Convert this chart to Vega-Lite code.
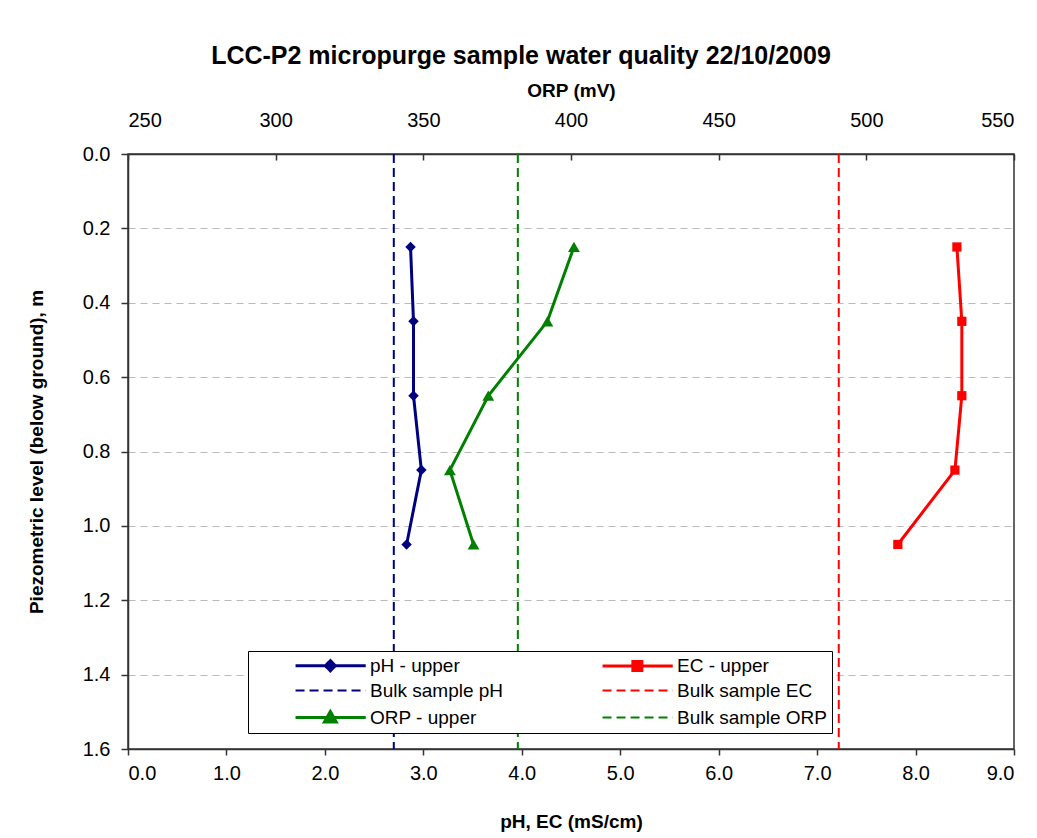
{
  "$schema": "https://vega.github.io/schema/vega-lite/v6.json",
  "width": 886,
  "height": 595,
  "autosize": {"type": "none"},
  "padding": {"left": 128, "top": 154, "right": 23, "bottom": 89},
  "background": "white",
  "title": {
    "text": "LCC-P2 micropurge sample water quality 22/10/2009",
    "font": "Liberation Sans",
    "fontSize": 25,
    "fontWeight": "bold",
    "color": "black",
    "anchor": "middle",
    "frame": "bounds",
    "offset": 12
  },
  "config": {
    "font": "Liberation Sans",
    "view": {"stroke": "#333333", "strokeWidth": 1.5},
    "axis": {
      "labelFont": "Liberation Sans",
      "labelFontSize": 20,
      "labelColor": "black",
      "titleFont": "Liberation Sans",
      "titleFontSize": 19,
      "titleFontWeight": "bold",
      "titleColor": "black",
      "domainColor": "#333333",
      "domainWidth": 1.5,
      "tickColor": "#333333",
      "tickWidth": 1.5
    }
  },
  "datasets": {
    "d": [
      {"series": "pH - upper", "depth": 0.25, "value": 2.87},
      {"series": "pH - upper", "depth": 0.45, "value": 2.9},
      {"series": "pH - upper", "depth": 0.65, "value": 2.9},
      {"series": "pH - upper", "depth": 0.85, "value": 2.98},
      {"series": "pH - upper", "depth": 1.05, "value": 2.83},
      {"series": "EC - upper", "depth": 0.25, "value": 8.42},
      {"series": "EC - upper", "depth": 0.45, "value": 8.47},
      {"series": "EC - upper", "depth": 0.65, "value": 8.47},
      {"series": "EC - upper", "depth": 0.85, "value": 8.4},
      {"series": "EC - upper", "depth": 1.05, "value": 7.82},
      {"series": "ORP - upper", "depth": 0.25, "value": 401},
      {"series": "ORP - upper", "depth": 0.45, "value": 392},
      {"series": "ORP - upper", "depth": 0.65, "value": 372},
      {"series": "ORP - upper", "depth": 0.85, "value": 359},
      {"series": "ORP - upper", "depth": 1.05, "value": 367},
      {"series": "Bulk sample pH", "value": 2.7},
      {"series": "Bulk sample EC", "value": 7.22},
      {"series": "Bulk sample ORP", "value": 382}
    ]
  },
  "data": {"name": "d"},
  "layer": [
    {
      "layer": [
        {
          "transform": [{"filter": "datum.series === 'pH - upper' || datum.series === 'EC - upper'"}],
          "mark": {"type": "line", "strokeWidth": 3},
          "encoding": {
            "x": {"field": "value", "type": "quantitative", "scale": {"domain": [0, 9], "nice": false, "zero": false},
              "axis": {"orient": "bottom", "title": "pH, EC (mS/cm)", "values": [0,1,2,3,4,5,6,7,8,9], "format": ".1f", "grid": false, "tickSize": 6, "labelPadding": 8, "titlePadding": 29}},
            "y": {"field": "depth", "type": "quantitative", "scale": {"domain": [0, 1.6], "reverse": true, "nice": false},
              "axis": {"title": "Piezometric level (below ground), m", "values": [0,0.2,0.4,0.6,0.8,1.0,1.2,1.4,1.6], "format": ".1f", "grid": true, "gridColor": "#bbbbbb", "gridDash": [7, 5], "gridWidth": 1.2, "tickSize": 7, "labelPadding": 11, "titlePadding": 36}},
            "color": {"field": "series", "type": "nominal",
              "scale": {"domain": ["pH - upper", "Bulk sample pH", "ORP - upper", "EC - upper", "Bulk sample EC", "Bulk sample ORP"],
                        "range": ["#000080", "#000080", "#008000", "#ff0000", "#ff0000", "#008000"]},
              "legend": {
                "title": null,
                "orient": "none",
                "legendX": 120,
                "legendY": 497,
                "columns": 2,
                "columnPadding": 56,
                "rowPadding": 4,
                "padding": 5,
                "strokeColor": "black",
                "fillColor": "white",
                "symbolSize": 13924,
                "labelOffset": 98,
                "labelFont": "Liberation Sans",
                "labelFontSize": 19,
                "labelColor": "black",
                "labelLimit": 300,
                "encode": {
                  "symbols": {
                    "update": {
                      "shape": {"signal": "datum.value === 'pH - upper' ? 'M0.56,0L1.75,0M1.15,-0.085L1.235,0L1.15,0.085L1.065,0Z' : datum.value === 'EC - upper' ? 'M0.56,0L1.75,0M1.074,-0.076L1.226,-0.076L1.226,0.076L1.074,0.076Z' : datum.value === 'ORP - upper' ? 'M0.56,0L1.75,0M1.15,-0.1L1.25,0.075L1.05,0.075Z' : 'M0.56,0L1.75,0'"},
                      "stroke": {"signal": "scale('color', datum.value)"},
                      "fill": {"signal": "scale('color', datum.value)"},
                      "strokeWidth": {"signal": "indexof(['pH - upper','EC - upper','ORP - upper'], datum.value) >= 0 ? 3 : 2"},
                      "strokeDash": {"signal": "indexof(['pH - upper','EC - upper','ORP - upper'], datum.value) >= 0 ? [1, 0] : [9, 5]"},
                      "opacity": {"value": 1}
                    }
                  }
                }
              }
            },
            "detail": {"field": "series"},
            "order": {"field": "depth", "type": "quantitative"}
          }
        },
        {
          "transform": [{"filter": "datum.series === 'pH - upper'"}],
          "mark": {"type": "point", "shape": "diamond", "filled": true, "size": 110, "color": "#000080", "opacity": 1},
          "encoding": {
            "x": {"field": "value", "type": "quantitative"},
            "y": {"field": "depth", "type": "quantitative"}
          }
        },
        {
          "transform": [{"filter": "datum.series === 'EC - upper'"}],
          "mark": {"type": "point", "shape": "square", "filled": true, "size": 85, "color": "#ff0000", "opacity": 1},
          "encoding": {
            "x": {"field": "value", "type": "quantitative"},
            "y": {"field": "depth", "type": "quantitative"}
          }
        },
        {
          "transform": [{"filter": "datum.series === 'Bulk sample pH' || datum.series === 'Bulk sample EC'"}],
          "mark": {"type": "rule", "strokeWidth": 2, "strokeDash": [9, 5]},
          "encoding": {
            "x": {"field": "value", "type": "quantitative"},
            "color": {"field": "series", "type": "nominal"}
          }
        }
      ]
    },
    {
      "layer": [
        {
          "transform": [{"filter": "datum.series === 'ORP - upper'"}],
          "mark": {"type": "line", "strokeWidth": 3},
          "encoding": {
            "x": {"field": "value", "type": "quantitative", "scale": {"domain": [250, 550], "nice": false, "zero": false},
              "axis": {"orient": "top", "title": "ORP (mV)", "values": [250, 300, 350, 400, 450, 500, 550], "format": "d", "grid": false, "tickSize": -6, "labelPadding": 30, "titlePadding": 10}},
            "y": {"field": "depth", "type": "quantitative"},
            "color": {"field": "series", "type": "nominal"},
            "order": {"field": "depth", "type": "quantitative"}
          }
        },
        {
          "transform": [{"filter": "datum.series === 'ORP - upper'"}],
          "mark": {"type": "point", "shape": "triangle-up", "filled": true, "size": 140, "color": "#008000", "opacity": 1},
          "encoding": {
            "x": {"field": "value", "type": "quantitative"},
            "y": {"field": "depth", "type": "quantitative"}
          }
        },
        {
          "transform": [{"filter": "datum.series === 'Bulk sample ORP'"}],
          "mark": {"type": "rule", "strokeWidth": 2, "strokeDash": [9, 5]},
          "encoding": {
            "x": {"field": "value", "type": "quantitative"},
            "color": {"field": "series", "type": "nominal"}
          }
        }
      ]
    }
  ],
  "resolve": {"scale": {"x": "independent"}, "axis": {"x": "independent"}}
}
